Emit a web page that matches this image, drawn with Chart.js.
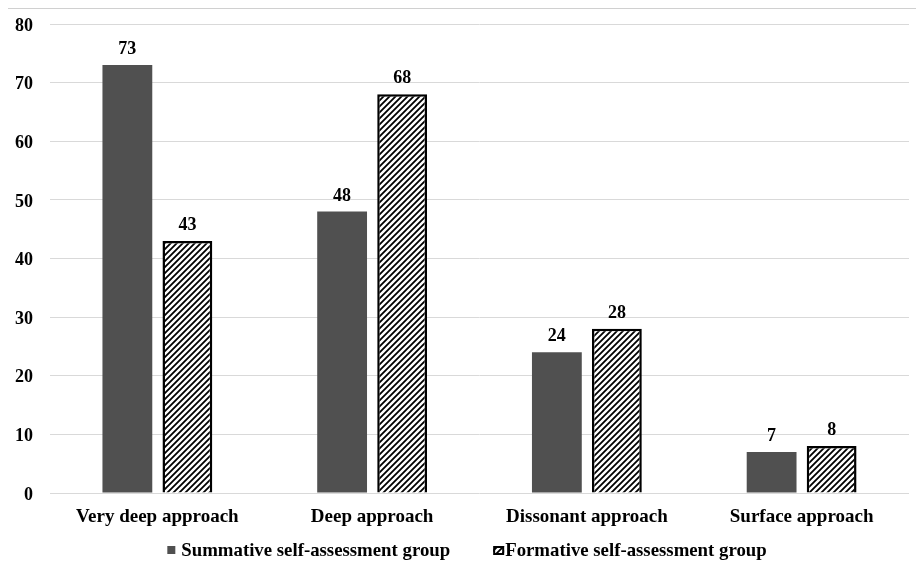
<!DOCTYPE html>
<html><head><meta charset="utf-8">
<script src="https://cdn.jsdelivr.net/npm/chart.js@4"></script>
<style>html,body{margin:0;padding:0;background:#fff}#wrap{width:916px;height:571px;position:relative}</style>
</head><body><div id="wrap"><canvas id="c" width="916" height="571"></canvas></div>
<script>
const categories = ["Very deep approach", "Deep approach", "Dissonant approach", "Surface approach"];
const summative = [73, 48, 24, 7];
const formative = [43, 68, 28, 8];
const seriesNames = ["Summative self-assessment group", "Formative self-assessment group"];
const yTicks = [0, 10, 20, 30, 40, 50, 60, 70, 80];

const FONT = "'Liberation Serif', 'Times New Roman', serif";

function hatch() {
  const s = 6;
  const p = document.createElement('canvas');
  p.width = s; p.height = s;
  const x = p.getContext('2d');
  x.fillStyle = '#fff'; x.fillRect(0, 0, s, s);
  x.strokeStyle = '#000'; x.lineWidth = 1.8;
  x.beginPath();
  x.moveTo(0, s); x.lineTo(s, 0);
  x.moveTo(-s / 2, s / 2); x.lineTo(s / 2, -s / 2);
  x.moveTo(s / 2, s * 1.5); x.lineTo(s * 1.5, s / 2);
  x.stroke();
  return x.createPattern(p, 'repeat');
}
const ctx = document.getElementById('c').getContext('2d');
const pat = hatch();

const valueLabels = {
  id: 'valueLabels',
  afterDatasetsDraw(chart) {
    const c = chart.ctx;
    c.save();
    c.font = "bold 18px " + FONT;
    c.fillStyle = '#000';
    c.textAlign = 'center';
    c.textBaseline = 'alphabetic';
    chart.data.datasets.forEach((ds, i) => {
      chart.getDatasetMeta(i).data.forEach((bar, j) => {
        c.fillText(String(ds.data[j]), bar.x, bar.y - 11);
      });
    });
    c.restore();
  }
};
const topLine = {
  id: 'topLine',
  beforeDraw(chart) {
    const c = chart.ctx;
    c.save();
    c.strokeStyle = '#d0d0d0'; c.lineWidth = 1;
    c.beginPath(); c.moveTo(8, 8.5); c.lineTo(chart.width, 8.5); c.stroke();
    c.restore();
  }
};
const customLegend = {
  id: 'customLegend',
  afterDraw(chart) {
    const c = chart.ctx;
    c.save();
    c.font = "bold 18.8px " + FONT;
    c.fillStyle = '#000';
    c.textBaseline = 'middle';
    const w0 = c.measureText(seriesNames[0]).width;
    const w1 = c.measureText(seriesNames[1]).width;
    const total = 8 + 6 + w0 + 43 + 11 + 1 + w1;
    let x = chart.width / 2 - total / 2 + 9;
    const y = 550;
    c.fillStyle = '#505050';
    c.fillRect(x, y - 4, 8, 8);
    x += 14;
    c.fillStyle = '#000';
    c.fillText(seriesNames[0], x, y + 1);
    x += w0 + 43;
    c.fillStyle = pat;
    c.fillRect(x, y - 4, 11, 9);
    c.strokeStyle = '#000'; c.lineWidth = 2;
    c.strokeRect(x + 1, y - 3, 9, 7);
    x += 12;
    c.fillStyle = '#000';
    c.fillText(seriesNames[1], x, y + 1);
    c.restore();
  }
};

new Chart(ctx, {
  type: 'bar',
  data: {
    labels: categories,
    datasets: [
      { label: seriesNames[0], data: summative, backgroundColor: '#505050', borderWidth: 0 },
      { label: seriesNames[1], data: formative, backgroundColor: pat, borderColor: '#000', borderWidth: 2.5 }
    ]
  },
  options: {
    responsive: false,
    animation: false,
    layout: { padding: { top: 24, right: 7, left: 0, bottom: 0 } },
    datasets: { bar: { categoryPercentage: 0.559, barPercentage: 0.83 } },
    scales: {
      x: {
        grid: { display: false, drawTicks: false },
        border: { display: false },
        ticks: { color: '#000', font: { family: FONT, size: 19, weight: 'bold' }, padding: 13, maxRotation: 0 },
        afterFit(axis) { axis.height = 78; axis.paddingLeft = 0; axis.paddingRight = 0; }
      },
      y: {
        min: 0, max: 80,
        afterBuildTicks(axis) { axis.ticks = yTicks.map(v => ({ value: v })); },
        grid: { color: '#d9d9d9', lineWidth: 1, drawTicks: false },
        border: { display: false },
        ticks: { color: '#000', font: { family: FONT, size: 18, weight: 'bold' }, padding: 17, labelOffset: 2 },
        afterFit(axis) { axis.width = 50; axis.paddingTop = 0; axis.paddingBottom = 0; }
      }
    },
    plugins: {
      tooltip: { enabled: false },
      legend: { display: false }
    }
  },
  plugins: [valueLabels, topLine, customLegend]
});
</script></body></html>
